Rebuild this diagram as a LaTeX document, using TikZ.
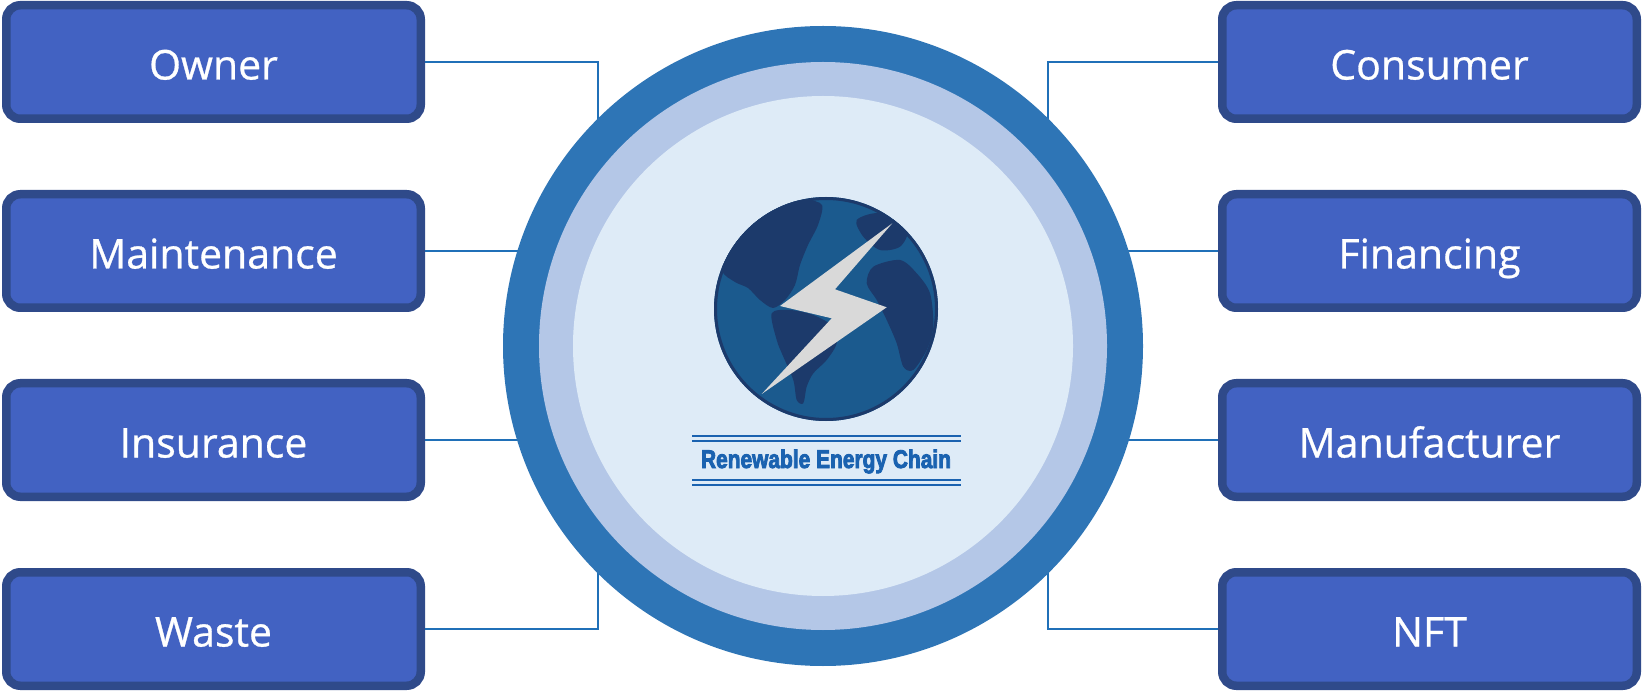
\documentclass[tikz,border=0pt]{standalone}
\usepackage{fontspec}
\usepackage{graphicx}
\setmainfont{Open Sans}[FakeBold=0.7]
\newfontfamily\logoFont{Liberation Sans Bold}[FakeBold=3.5]
\definecolor{roleFill}{HTML}{4262C2}
\definecolor{roleEdge}{HTML}{2F4A8A}
\definecolor{linkBlue}{HTML}{2070B8}
\definecolor{ringOuter}{HTML}{2E75B6}
\definecolor{ringMid}{HTML}{B4C7E7}
\definecolor{ringInner}{HTML}{DEEBF7}
\definecolor{globeSea}{HTML}{1B5A8E}
\definecolor{globeLand}{HTML}{1C3A6B}
\definecolor{boltGrey}{HTML}{D9D9D9}
\definecolor{logoBlue}{HTML}{1A62B0}
\newcommand{\roleFont}[0]{\fontsize{41}{41}\selectfont}

\begin{document}
\begin{tikzpicture}[x=1pt, y=-1pt]
  \tikzset{role/.style={rectangle, rounded corners=14pt, fill=roleFill, draw=roleEdge,
      line width=8.5pt, minimum width=414.5pt, minimum height=113.5pt,
      text=white, font=\roleFont, text height=35pt, text depth=0pt},
    link/.style={draw=linkBlue, line width=2.2pt},
    logoRule/.style={draw=logoBlue, line width=1.8pt}}
  \useasboundingbox (0,0) rectangle (1644,692);

  \node[role] (owner) at (213.5,62) {Owner};
  \node[role] (maintenance) at (213.5,251) {Maintenance};
  \node[role] (insurance) at (213.5,440) {Insurance};
  \node[role] (waste) at (213.5,629) {Waste};
  \node[role] (consumer) at (1429.5,62) {Consumer};
  \node[role] (financing) at (1429.5,251) {Financing};
  \node[role] (manufacturer) at (1429.5,440) {Manufacturer};
  \node[role] (nft) at (1429.5,629) {NFT};

  \coordinate (leftJoin) at (598,346);
  \coordinate (rightJoin) at (1048,346);
  \draw[link] (owner.east) -| (leftJoin);
  \draw[link] (maintenance.east) -- (maintenance.east -| leftJoin);
  \draw[link] (insurance.east) -- (insurance.east -| leftJoin);
  \draw[link] (waste.east) -| (leftJoin);
  \draw[link] (consumer.west) -| (rightJoin);
  \draw[link] (financing.west) -- (financing.west -| rightJoin);
  \draw[link] (manufacturer.west) -- (manufacturer.west -| rightJoin);
  \draw[link] (nft.west) -| (rightJoin);

  \node[circle, fill=ringOuter, minimum size=640pt] (ring) at (823,346) {};
  \node[circle, fill=ringMid, minimum size=568pt] (band) at (ring.center) {};
  \node[circle, fill=ringInner, minimum size=500pt] (core) at (ring.center) {};

  \node[circle, fill=globeSea, minimum size=224pt] (globe) at (826,309) {};
  \begin{scope}
    \clip (globe.center) circle (112pt);
    \fill[globeLand] plot[smooth cycle] coordinates {(722,270) (730,240) (750,220) (775,206)
      (805,200) (822,205) (818,225) (808,245) (800,265) (795,285) (785,300) (773,308)
      (760,300) (748,288) (735,282)};
    \fill[globeLand] plot[smooth cycle] coordinates {(771.7,313.3) (790,310) (813.3,315)
      (833.3,326.7) (836.7,343.3) (826.7,360) (813.3,373.3) (806.7,386.7) (803.3,403.3)
      (796.7,400) (793.3,380) (783.3,356.7) (776.7,340)};
    \fill[globeLand] plot[smooth cycle] coordinates {(873.3,266.7) (900,260) (916.7,273.3)
      (930,293.3) (933.3,326.7) (926.7,350) (913.3,370) (903.3,366.7) (896.7,343.3)
      (886.7,320) (876.7,300) (866.7,283.3)};
    \fill[globeLand] plot[smooth cycle] coordinates {(856.7,220) (880,213.3) (906.7,230)
      (900,246.7) (880,250) (863.3,236.7)};
  \end{scope}
  \draw[globeLand, line width=3pt] (globe.center) circle (110.5pt);
  \fill[boltGrey] (892.3,223.3) -- (780,306) -- (831.7,318.3) -- (761.7,394)
    -- (886.7,307.3) -- (835,289.3) -- cycle;

  \node[anchor=base, inner sep=0pt, text=logoBlue] (logoText) at (826,468)
    {\resizebox{250pt}{18.5pt}{\logoFont Renewable Energy Chain}};
  \draw[logoRule] (692,436) -- (961,436);
  \draw[logoRule] (692,441) -- (961,441);
  \draw[logoRule] (692,480) -- (961,480);
  \draw[logoRule] (692,485) -- (961,485);
\end{tikzpicture}
\end{document}
